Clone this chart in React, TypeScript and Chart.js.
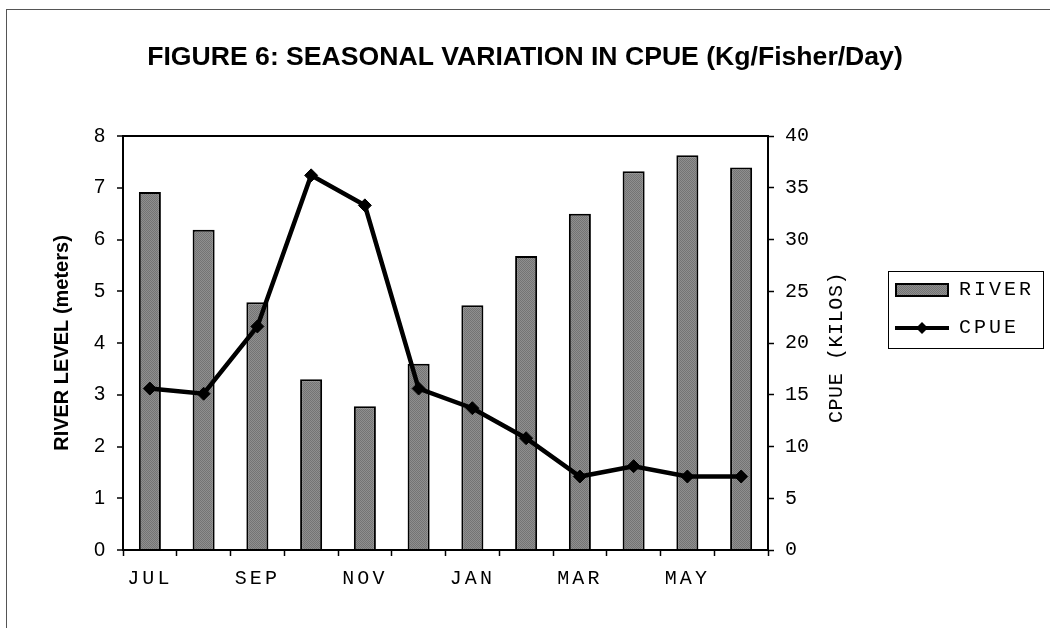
import React, { useEffect, useRef } from 'react';
import { Chart, registerables } from 'chart.js';

Chart.register(...registerables);

const MONTHS = ['JUL', 'AUG', 'SEP', 'OCT', 'NOV', 'DEC', 'JAN', 'FEB', 'MAR', 'APR', 'MAY', 'JUN'];
const RIVER_LEVEL = [6.92, 6.19, 4.79, 3.3, 2.78, 3.6, 4.73, 5.68, 6.5, 7.32, 7.63, 7.39];
const CPUE = [15.6, 15.1, 21.6, 36.2, 33.3, 15.6, 13.7, 10.8, 7.1, 8.1, 7.1, 7.1];
const SERIES_LABELS = ['RIVER', 'CPUE'];
const TITLE = 'FIGURE 6: SEASONAL VARIATION IN CPUE (Kg/Fisher/Day)';
const LEFT_AXIS_TITLE = 'RIVER LEVEL (meters)';
const RIGHT_AXIS_TITLE = 'CPUE (KILOS)';

const SANS = 'Liberation Sans';
const MONO = 'Liberation Mono';

function makePattern(ctx: CanvasRenderingContext2D) {
  const c = document.createElement('canvas');
  c.width = 2;
  c.height = 2;
  const g = c.getContext('2d')!;
  g.fillStyle = '#8f8f8f';
  g.fillRect(0, 0, 2, 2);
  g.fillStyle = '#747474';
  g.fillRect(0, 0, 1, 1);
  g.fillRect(1, 1, 1, 1);
  return ctx.createPattern(c, 'repeat')!;
}

function barSwatch() {
  const c = document.createElement('canvas');
  c.width = 54;
  c.height = 14;
  const g = c.getContext('2d')!;
  g.fillStyle = makePattern(g);
  g.fillRect(0, 0, 54, 14);
  g.strokeStyle = '#000';
  g.lineWidth = 2;
  g.strokeRect(1, 1, 52, 12);
  return c;
}

function lineSwatch() {
  const c = document.createElement('canvas');
  c.width = 54;
  c.height = 16;
  const g = c.getContext('2d')!;
  g.strokeStyle = '#000';
  g.lineWidth = 4;
  g.beginPath();
  g.moveTo(0, 8);
  g.lineTo(54, 8);
  g.stroke();
  g.fillStyle = '#000';
  g.beginPath();
  g.moveTo(27, 2);
  g.lineTo(33, 8);
  g.lineTo(27, 14);
  g.lineTo(21, 8);
  g.closePath();
  g.fill();
  return c;
}

function withSpacing(obj: any, key: string, spacing: string) {
  if (!obj || obj['__sp_' + key]) return;
  obj['__sp_' + key] = true;
  const orig = obj[key];
  obj[key] = function (...args: any[]) {
    const c = this.ctx;
    c.save();
    c.letterSpacing = spacing;
    orig.apply(this, args);
    c.restore();
  };
}

const patchPlugin = {
  id: 'patches',
  beforeLayout(chart: any) {
    const lg = chart.legend;
    if (lg && !lg.__patched) {
      lg.__patched = true;
      const origFit = lg.fit;
      lg.fit = function () {
        origFit.call(this);
        this.width = 173;
      };
      const origDraw = lg.draw;
      lg.draw = function (...args: any[]) {
        const c = this.ctx;
        c.save();
        c.translate(0, -5);
        c.letterSpacing = '3px';
        origDraw.apply(this, args);
        const hb = this.legendHitBoxes;
        if (hb && hb.length) {
          c.letterSpacing = '0px';
          c.font = `20px "${MONO}"`;
          let maxW = 0;
          (this.legendItems || []).forEach((it: any) => {
            maxW = Math.max(maxW, c.measureText(it.text).width + 3 * it.text.length);
          });
          const left = hb[0].left - 7;
          const top = hb[0].top - 9;
          const last = hb[hb.length - 1];
          const bottom = last.top + last.height + 10;
          const right = hb[0].left + 54 + 10 + maxW + 9;
          c.strokeStyle = '#000';
          c.lineWidth = 1;
          c.strokeRect(Math.round(left) + 0.5, Math.round(top) + 0.5, Math.round(right - left), Math.round(bottom - top));
        }
        c.restore();
      };
    }
  },
  beforeDraw(chart: any) {
    withSpacing(chart.scales.x, 'drawLabels', '3px');
  },
};

const rightTitlePlugin = {
  id: 'rightTitle',
  afterDraw(chart: any) {
    const s = chart.scales.y2;
    if (!s) return;
    const c = chart.ctx;
    c.save();
    c.translate(s.left + 69, (s.top + s.bottom) / 2 + 4.5);
    c.rotate(-Math.PI / 2);
    c.font = `20px "${MONO}"`;
    c.letterSpacing = '0.6px';
    c.fillStyle = '#000';
    c.textAlign = 'center';
    c.textBaseline = 'middle';
    c.fillText(RIGHT_AXIS_TITLE, 0, 0);
    c.restore();
  },
};

export default function App() {
  const ref = useRef<HTMLCanvasElement | null>(null);

  useEffect(() => {
    const canvas = ref.current;
    if (!canvas) return;
    const ctx = canvas.getContext('2d')!;
    const pattern = makePattern(ctx);
    const swatches = [barSwatch(), lineSwatch()];

    const chart = new Chart(canvas, {
      type: 'bar',
      data: {
        labels: MONTHS,
        datasets: [
          {
            type: 'bar',
            label: SERIES_LABELS[0],
            data: RIVER_LEVEL,
            yAxisID: 'y',
            backgroundColor: pattern as any,
            borderColor: '#000',
            borderWidth: 2,
            barPercentage: 0.41,
            categoryPercentage: 1,
            order: 1,
          },
          {
            type: 'line',
            label: SERIES_LABELS[1],
            data: CPUE,
            yAxisID: 'y2',
            borderColor: '#000',
            backgroundColor: '#000',
            borderWidth: 4.5,
            pointStyle: 'rectRot',
            pointRadius: 6.5,
            pointBorderWidth: 1,
            pointBackgroundColor: '#000',
            pointBorderColor: '#000',
            tension: 0,
            order: 0,
          } as any,
        ],
      },
      options: {
        responsive: false,
        animation: false,
        events: [],
        layout: { padding: 0 },
        scales: {
          x: {
            grid: { offset: true, drawOnChartArea: false, tickLength: 6, tickColor: '#000', tickWidth: 1.5 },
            border: { color: '#000', width: 2 },
            ticks: {
              autoSkip: false,
              maxRotation: 0,
              padding: 11,
              color: '#000',
              font: { family: MONO, size: 20 },
              callback: (_v: any, i: number) => (i % 2 === 0 ? MONTHS[i] : ''),
            },
            afterFit: (s: any) => {
              s.height = 78;
            },
          },
          y: {
            position: 'left',
            min: 0,
            max: 8,
            ticks: { stepSize: 1, padding: 12, color: '#000', font: { family: SANS, size: 20 } },
            grid: {
              color: (c: any) => (c.tick && c.tick.value === 8 ? '#000' : 'rgba(0,0,0,0)'),
              lineWidth: 2,
              tickColor: '#000',
              tickLength: 6,
              tickWidth: 1.5,
            },
            border: { color: '#000', width: 2 },
            title: {
              display: true,
              text: LEFT_AXIS_TITLE,
              color: '#000',
              font: { family: SANS, size: 20, weight: 'bold' },
              padding: { top: 50, bottom: 0 },
            },
            afterFit: (s: any) => {
              s.width = 123;
            },
          },
          y2: {
            position: 'right',
            min: 0,
            max: 40,
            ticks: { stepSize: 5, padding: 11, color: '#000', font: { family: MONO, size: 20 } },
            grid: { drawOnChartArea: false, tickColor: '#000', tickLength: 6, tickWidth: 1.5 },
            border: { color: '#000', width: 2 },
            afterFit: (s: any) => {
              s.width = 109;
            },
          },
        } as any,
        plugins: {
          title: {
            display: true,
            text: TITLE,
            color: '#000',
            font: { family: SANS, size: 26.6, weight: 'bold' },
            padding: { top: 41.6, bottom: 62.5 },
          },
          legend: {
            display: true,
            position: 'right',
            align: 'center',
            labels: {
              usePointStyle: true,
              pointStyleWidth: 54,
              boxHeight: 20,
              padding: 18,
              color: '#000',
              font: { family: MONO, size: 20 },
              generateLabels: (ch: any) => {
                const items = (Chart.defaults.plugins.legend.labels as any).generateLabels(ch);
                items.sort((a: any, b: any) => a.datasetIndex - b.datasetIndex);
                items.forEach((it: any) => {
                  it.pointStyle = swatches[it.datasetIndex];
                  it.fontColor = '#000';
                });
                return items;
              },
            },
          },
          tooltip: { enabled: false },
        },
      } as any,
      plugins: [patchPlugin, rightTitlePlugin],
    });

    return () => {
      chart.destroy();
    };
  }, []);

  return (
    <div
      style={{
        position: 'fixed',
        left: 0,
        top: 0,
        width: 1050,
        height: 628,
        overflow: 'hidden',
        background: '#fff',
      }}
    >
      <div
        style={{
          position: 'absolute',
          left: 6,
          top: 9,
          width: 1200,
          height: 800,
          border: '1px solid #555',
        }}
      />
      <canvas
        ref={ref}
        width={1050}
        height={628}
        style={{ position: 'absolute', left: 0, top: 0, width: 1050, height: 628 }}
      />
    </div>
  );
}
